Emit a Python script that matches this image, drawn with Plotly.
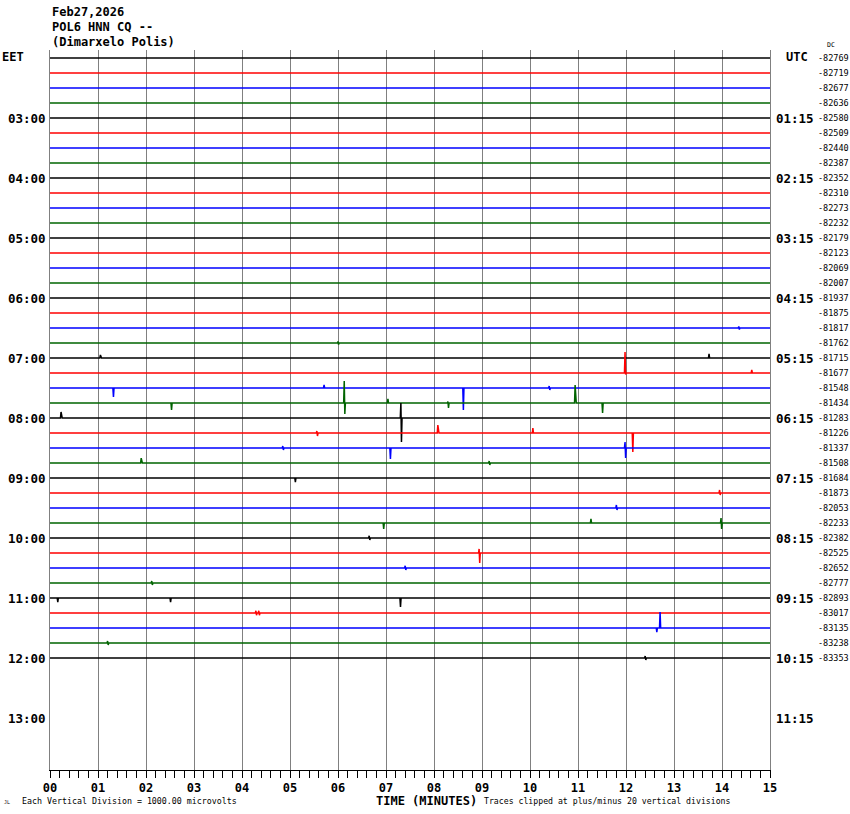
import plotly.graph_objects as go

# ---------------- data ----------------
minute_labels = ["%02d" % m for m in range(16)]
left_hour_labels = ["03:00", "04:00", "05:00", "06:00", "07:00", "08:00",
                    "09:00", "10:00", "11:00", "12:00", "13:00"]
right_hour_labels = ["01:15", "02:15", "03:15", "04:15", "05:15", "06:15",
                     "07:15", "08:15", "09:15", "10:15", "11:15"]
dc_values = [-82769, -82719, -82677, -82636, -82580, -82509, -82440, -82387,
             -82352, -82310, -82273, -82232, -82179, -82123, -82069, -82007,
             -81937, -81875, -81817, -81762, -81715, -81677, -81548, -81434,
             -81283, -81226, -81337, -81508, -81684, -81873, -82053, -82233,
             -82382, -82525, -82652, -82777, -82893, -83017, -83135, -83238,
             -83353]
row_colors = ["#000000", "#ff0000", "#0000ff", "#006400"]

# spikes: (row, minute, up, down) amplitudes in trace-spacing units
spike_rows = [21, 21, 22, 22, 22, 23, 23, 23, 23, 23, 23, 24, 24, 25, 25, 25,
              25, 26, 26, 27, 20, 28, 31, 31, 31, 33, 36, 36, 36, 37, 37, 38,
              38, 22, 20, 29, 30, 32, 34, 35, 39, 40, 19, 18, 26, 27]
spike_minutes = [11.98, 14.62, 1.31, 8.60, 5.71, 2.52, 6.13, 7.04, 10.94, 11.50,
                 8.29, 0.23, 7.31, 5.56, 8.08, 12.13, 10.06, 7.08, 11.98, 1.90,
                 13.73, 5.10, 6.94, 13.98, 11.27, 8.94, 7.29, 0.15, 2.50, 4.29,
                 4.35, 12.71, 12.63, 10.40, 1.05, 13.95, 11.80, 6.65, 7.40,
                 2.12, 1.20, 12.40, 6.00, 14.35, 4.85, 9.15]
spike_up = [1.40, 0.20, 0.0, 0.0, 0.20, 0.0, 1.47, 0.27, 1.20, 0.0,
            0.10, 0.40, 1.00, 0.13, 0.53, 0.0, 0.33, 0.0, 0.40, 0.33,
            0.27, 0.0, 0.0, 0.33, 0.27, 0.27, 0.0, 0.0, 0.0, 0.15,
            0.15, 1.07, 0.0, 0.13, 0.20, 0.20, 0.20, 0.15, 0.15,
            0.13, 0.13, 0.13, 0.10, 0.10, 0.13, 0.13]
spike_down = [0.10, 0.0, 0.60, 1.47, 0.0, 0.47, 0.73, 0.0, 0.0, 0.67,
              0.33, 0.0, 1.60, 0.20, 0.0, 1.27, 0.0, 0.73, 0.67, 0.0,
              0.0, 0.27, 0.40, 0.40, 0.0, 0.67, 0.60, 0.27, 0.27, 0.15,
              0.15, 0.0, 0.27, 0.13, 0.0, 0.13, 0.13, 0.13, 0.13,
              0.13, 0.13, 0.13, 0.10, 0.10, 0.13, 0.13]

# ---------------- figure ----------------
n_rows = len(dc_values)
fig = go.Figure()
eps = 0.012
for r in range(n_rows):
    spikes = sorted([(spike_minutes[i], spike_up[i], spike_down[i])
                     for i in range(len(spike_rows)) if spike_rows[i] == r])
    xs, ys = [0.0], [r]
    for t, up, dn in spikes:
        xs += [t - eps, t, t + eps, t + 2 * eps]
        ys += [r, r - up, r + dn, r]
    xs.append(15.0)
    ys.append(r)
    fig.add_trace(go.Scatter(x=xs, y=ys, mode="lines",
                             line=dict(color=row_colors[r % 4], width=1.5),
                             hoverinfo="skip", showlegend=False))

mono = "DejaVu Sans Mono"
ann = []
# left EET / right UTC headers
ann.append(dict(text="<b>EET</b>", x=-0.069, y=-0.07, xref="paper", yref="y",
                xanchor="left", showarrow=False, font=dict(family=mono, size=12, color="black")))
ann.append(dict(text="<b>UTC</b>", x=1.0195, y=-0.07, xref="paper", yref="y",
                xanchor="left", showarrow=False, font=dict(family=mono, size=12, color="black")))
for k, (lab, rlab) in enumerate(zip(left_hour_labels, right_hour_labels)):
    row = 4 * (k + 1)
    ann.append(dict(text="<b>%s</b>" % lab, x=-0.003, y=row, xref="paper", yref="y",
                    xanchor="right", showarrow=False,
                    font=dict(family=mono, size=12.5, color="black")))
    ann.append(dict(text="<b>%s</b>" % rlab, x=1.0056, y=row, xref="paper", yref="y",
                    xanchor="left", showarrow=False,
                    font=dict(family=mono, size=12.5, color="black")))
for r, v in enumerate(dc_values):
    ann.append(dict(text=str(v), x=1.0640, y=r, xref="paper", yref="y",
                    xanchor="left", showarrow=False,
                    font=dict(family=mono, size=8.5, color="black")))
ann.append(dict(text="DC", x=1.0765, y=-0.45, xref="paper", yref="y",
                xanchor="left", yanchor="bottom", showarrow=False,
                font=dict(family=mono, size=6.5, color="black")))
# header
for txt, yy in [("Feb27,2026", 1.0528), ("POL6 HNN CQ --", 1.0319), ("(Dimarxelo Polis)", 1.0111)]:
    ann.append(dict(text="<b>%s</b>" % txt, x=0.0, y=yy, xref="paper", yref="paper",
                    xanchor="left", yanchor="middle", showarrow=False,
                    font=dict(family=mono, size=12, color="black")))
# bottom texts
ann.append(dict(text="<b>TIME (MINUTES)</b>", x=0.5229, y=-0.0425, xref="paper", yref="paper",
                xanchor="center", yanchor="middle", showarrow=False,
                font=dict(family=mono, size=12, color="black")))
ann.append(dict(text="Each Vertical Division = 1000.00 microvolts", x=-0.0417, y=-0.0425,
                xref="paper", yref="paper", xanchor="left", yanchor="middle", showarrow=False,
                font=dict(family=mono, size=8.3, color="black")))
ann.append(dict(text="Traces clipped at plus/minus 20 vertical divisions", x=0.6, y=-0.0425,
                xref="paper", yref="paper", xanchor="left", yanchor="middle", showarrow=False,
                font=dict(family=mono, size=8.2, color="black")))
ann.append(dict(text="JL", x=-0.066, y=-0.0445, xref="paper", yref="paper",
                xanchor="left", yanchor="middle", showarrow=False,
                font=dict(family=mono, size=5, color="black")))

fig.update_layout(
    width=850, height=814,
    margin=dict(l=50, r=80, t=50, b=44, pad=0),
    paper_bgcolor="white", plot_bgcolor="white",
    annotations=ann,
    xaxis=dict(range=[0, 15], tickmode="array", tickvals=list(range(16)),
               ticktext=minute_labels, showgrid=True, gridcolor="#808080", gridwidth=1,
               zeroline=False, showline=True, linecolor="black", linewidth=1,
               ticks="outside", ticklen=7, tickcolor="black", tickwidth=1,
               tickfont=dict(family=mono, size=12, color="black", weight="bold"),
               minor=dict(dtick=0.2, tick0=0, ticks="outside", ticklen=7,
                          tickcolor="black", tickwidth=1, showgrid=False),
               fixedrange=True),
    yaxis=dict(range=[47.4667, -0.5333], showgrid=False, zeroline=False,
               showticklabels=False, ticks="", showline=True, mirror=True,
               linecolor="#808080", linewidth=1, fixedrange=True),
)
fig.write_html("out.html", config={"displayModeBar": False},
               post_script="document.body.style.margin='0';document.body.style.overflow='hidden';")
